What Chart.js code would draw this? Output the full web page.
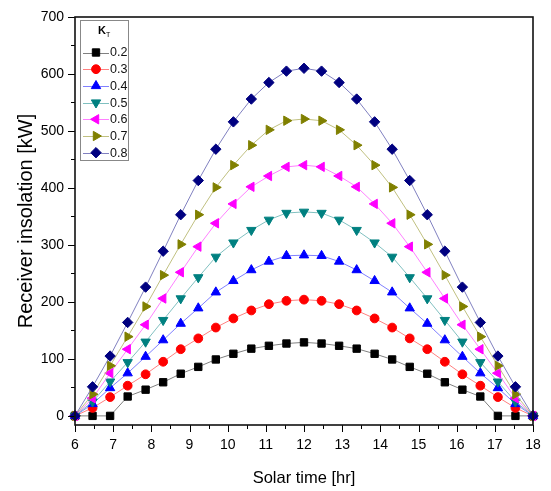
<!DOCTYPE html>
<html>
<head>
<meta charset="utf-8">
<script src="https://cdn.jsdelivr.net/npm/chart.js@4.4.1/dist/chart.umd.min.js"></script>
<style>
  html, body { margin: 0; padding: 0; background: #fff; }
  #wrap { width: 551px; height: 491px; }
</style>
</head>
<body>
<div id="wrap"><canvas id="myChart"></canvas></div>
<script>
// solar time of each point [hr]
const hours = [6, 6.46, 6.92, 7.38, 7.85, 8.31, 8.77, 9.23, 9.69, 10.15, 10.62, 11.08, 11.54, 12,
  12.46, 12.92, 13.38, 13.85, 14.31, 14.77, 15.23, 15.69, 16.15, 16.62, 17.08, 17.54, 18];

// receiver insolation [kW] for each clearness index K_T
const kt02 = [0, 0, 0, 34, 46, 59, 74, 86, 99, 109, 118, 123, 127, 129, 127, 123, 118, 109, 99, 86, 74, 59, 46, 34, 0, 0, 0];
const kt03 = [0, 14, 33, 53, 73, 95, 117, 136, 155, 171, 185, 196, 202, 204, 202, 196, 185, 171, 155, 136, 117, 95, 73, 53, 33, 14, 0];
const kt04 = [0, 21, 49, 75, 104, 133, 162, 189, 217, 237, 256, 271, 281, 282, 281, 271, 256, 237, 217, 189, 162, 133, 104, 75, 49, 21, 0];
const kt05 = [0, 25, 60, 94, 130, 168, 206, 243, 279, 304, 326, 344, 356, 358, 356, 344, 326, 304, 279, 243, 206, 168, 130, 94, 60, 25, 0];
const kt06 = [0, 31, 75, 117, 160, 206, 252, 297, 338, 372, 402, 421, 437, 440, 437, 421, 402, 372, 338, 297, 252, 206, 160, 117, 75, 31, 0];
const kt07 = [0, 38, 88, 139, 192, 247, 301, 353, 401, 440, 475, 502, 518, 521, 518, 502, 475, 440, 401, 353, 301, 247, 192, 139, 88, 38, 0];
const kt08 = [0, 51, 105, 164, 226, 289, 353, 413, 468, 516, 556, 585, 605, 610, 605, 585, 556, 516, 468, 413, 353, 289, 226, 164, 105, 51, 0];

const seriesLabels = ['0.2', '0.3', '0.4', '0.5', '0.6', '0.7', '0.8'];
const seriesValues = [kt02, kt03, kt04, kt05, kt06, kt07, kt08];
const xTicks = [6, 7, 8, 9, 10, 11, 12, 13, 14, 15, 16, 17, 18];
const yTicks = [0, 100, 200, 300, 400, 500, 600, 700];

// marker colour, line colour, marker shape
const styles = [
  { c: '#000000', l: '#808080', shape: 'rect', rot: 0, r: 5.2 },
  { c: '#ff0000', l: '#ff8080', shape: 'circle', rot: 0, r: 4.4 },
  { c: '#0000ff', l: '#8080ff', shape: 'triangle', rot: 0, r: 5.4 },
  { c: '#008080', l: '#80c0c0', shape: 'triangle', rot: 180, r: 5.4 },
  { c: '#ff00ff', l: '#ff80ff', shape: 'triangle', rot: -90, r: 5.4 },
  { c: '#808000', l: '#c0c080', shape: 'triangle', rot: 90, r: 5.4 },
  { c: '#000080', l: '#8080c0', shape: 'rectRot', rot: 0, r: 5.2 }
];

const datasets = seriesValues.map((vals, i) => ({
  label: seriesLabels[i],
  data: hours.map((h, j) => ({ x: h, y: vals[j] })),
  borderColor: styles[i].l,
  borderWidth: 1,
  backgroundColor: styles[i].c,
  pointBackgroundColor: styles[i].c,
  pointBorderColor: styles[i].c,
  pointBorderWidth: 1,
  pointStyle: styles[i].shape,
  pointRotation: styles[i].rot,
  pointRadius: styles[i].r,
  pointHoverRadius: styles[i].r,
  tension: 0,
  clip: 8,
  order: 7 - i
}));

// frame, major/minor ticks and the K_T legend box
const framePlugin = {
  id: 'framePlugin',
  afterDraw(chart) {
    const ctx = chart.ctx;
    const a = chart.chartArea;
    const xs = chart.scales.x, ys = chart.scales.y;
    ctx.save();
    ctx.strokeStyle = '#000';
    ctx.lineWidth = 1;
    for (let v = 6; v <= 18; v += 0.5) {
      const px = Math.round(xs.getPixelForValue(v)) + 0.5;
      const len = v % 1 === 0 ? 7 : 4;
      ctx.beginPath(); ctx.moveTo(px, a.bottom); ctx.lineTo(px, a.bottom + len); ctx.stroke();
    }
    for (let v = 0; v <= 700; v += 50) {
      const py = Math.round(ys.getPixelForValue(v)) + 0.5;
      const len = v % 100 === 0 ? 7 : 4;
      ctx.beginPath(); ctx.moveTo(a.left, py); ctx.lineTo(a.left - len, py); ctx.stroke();
    }
    ctx.lineWidth = 1.6;
    ctx.strokeStyle = '#111';
    ctx.strokeRect(a.left, a.top, a.right - a.left, a.bottom - a.top);

    // legend
    const bx = 80, by = 20, bw = 48, bh = 140;
    ctx.fillStyle = '#fff';
    ctx.fillRect(bx, by, bw, bh);
    ctx.lineWidth = 1;
    ctx.strokeStyle = '#888';
    ctx.strokeRect(bx + 0.5, by + 0.5, bw, bh);
    ctx.fillStyle = '#000';
    ctx.font = 'bold 11px "Liberation Sans", Arial, sans-serif';
    ctx.textBaseline = 'middle';
    ctx.textAlign = 'left';
    ctx.fillText('K', 98, 31);
    ctx.font = '7px "Liberation Sans", Arial, sans-serif';
    ctx.fillText('T', 106, 35);
    ctx.font = '12.5px "Liberation Sans", Arial, sans-serif';
    chart.data.datasets.forEach((ds, i) => {
      const y = 52.5 + i * 16.7;
      ctx.strokeStyle = ds.borderColor;
      ctx.lineWidth = 1;
      ctx.beginPath(); ctx.moveTo(83, Math.round(y) + 0.5); ctx.lineTo(109, Math.round(y) + 0.5); ctx.stroke();
      ctx.fillStyle = ds.pointBackgroundColor;
      ctx.strokeStyle = ds.pointBorderColor;
      Chart.helpers.drawPoint(ctx, {
        pointStyle: ds.pointStyle, rotation: ds.pointRotation,
        radius: ds.pointRadius, borderWidth: 1
      }, 96, y);
      ctx.fillStyle = '#111';
      ctx.fillText(ds.label, 110, y + 0.5);
    });
    ctx.restore();
  }
};

new Chart(document.getElementById('myChart'), {
  type: 'line',
  data: { datasets },
  plugins: [framePlugin],
  options: {
    responsive: true,
    maintainAspectRatio: false,
    animation: false,
    events: [],
    layout: { padding: { top: 17, right: 18, left: 0, bottom: 0 } },
    plugins: { legend: { display: false }, tooltip: { enabled: false } },
    scales: {
      x: {
        type: 'linear',
        min: 6, max: 18,
        afterBuildTicks: s => { s.ticks = xTicks.map(v => ({ value: v })); },
        afterFit: s => { s.height = 66; },
        grid: { drawOnChartArea: false, drawTicks: true, tickLength: 7, color: 'rgba(0,0,0,0)' },
        border: { display: false },
        ticks: { color: '#000', padding: 5, maxRotation: 0, font: { family: '"Liberation Sans", Arial, sans-serif', size: 14 } },
        title: { display: true, text: 'Solar time [hr]', color: '#000',
          font: { family: '"Liberation Sans", Arial, sans-serif', size: 16.5 }, padding: { top: 0, bottom: 3 } }
      },
      y: {
        type: 'linear',
        min: -16, max: 700,
        afterBuildTicks: s => { s.ticks = yTicks.map(v => ({ value: v })); },
        afterFit: s => { s.width = 75; },
        grid: { drawOnChartArea: false, drawTicks: true, tickLength: 7, color: 'rgba(0,0,0,0)' },
        border: { display: false },
        ticks: { color: '#000', padding: 4, font: { family: '"Liberation Sans", Arial, sans-serif', size: 14 } },
        title: { display: true, text: 'Receiver insolation [kW]', color: '#000',
          font: { family: '"Liberation Sans", Arial, sans-serif', size: 20 }, padding: { top: 14, bottom: 0 } }
      }
    }
  }
});
</script>
</body>
</html>
